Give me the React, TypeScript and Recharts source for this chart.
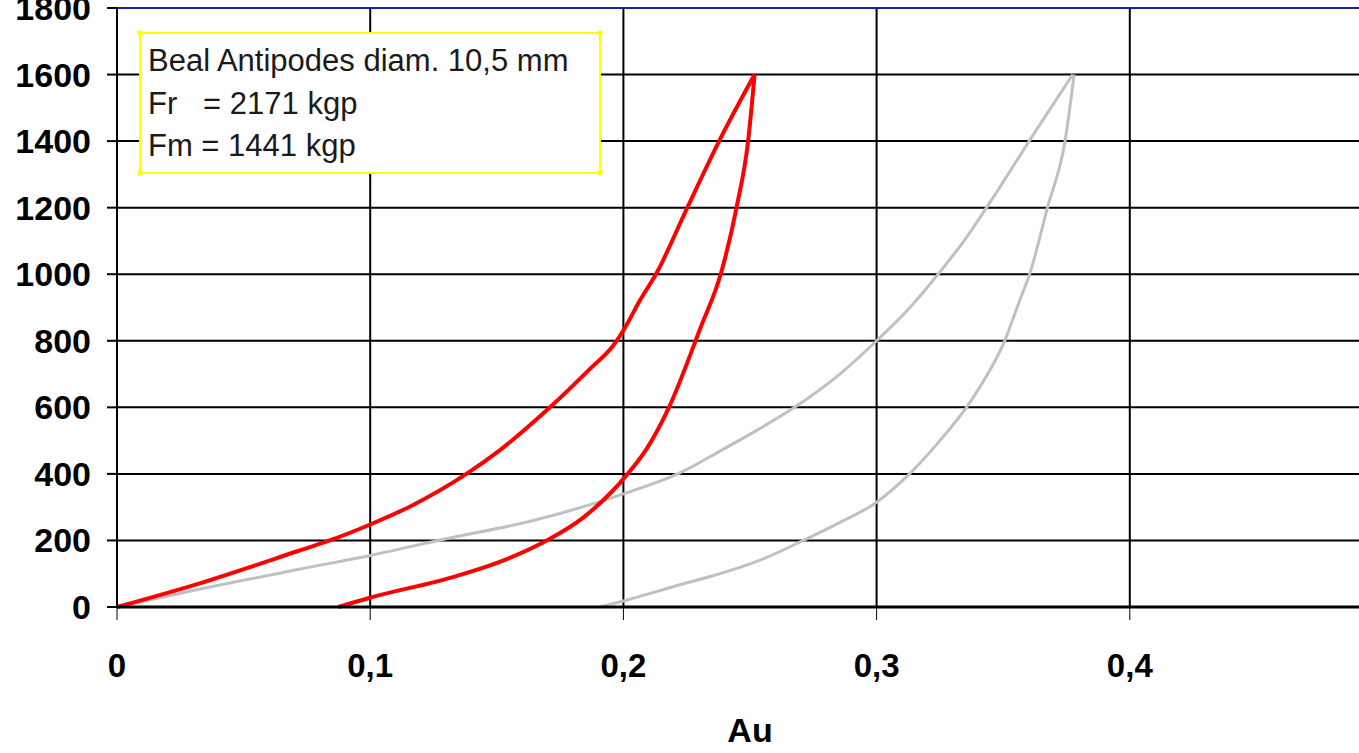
import React from 'react';
import { LineChart, Line, XAxis, YAxis, CartesianGrid, ReferenceLine } from 'recharts';

// Red curve (Beal Antipodes) – loading branch
const redLoadX = [0, 0.033, 0.0718, 0.084, 0.1, 0.116, 0.138, 0.151, 0.171, 0.187, 0.196, 0.2, 0.2065, 0.213, 0.2253, 0.238, 0.2518];
const redLoadY = [0, 72, 169, 200, 248, 303, 400, 470, 600, 717, 786, 831, 921, 1002, 1201, 1403, 1600];
// Red curve – unloading branch
const redUnloadX = [0.2518, 0.2493, 0.2447, 0.2385, 0.2305, 0.218, 0.2095, 0.2017, 0.184, 0.171, 0.154, 0.134, 0.0995, 0.0874];
const redUnloadY = [1600, 1403, 1201, 1002, 840, 600, 479, 400, 268, 205, 144, 93, 27, 0];
// Gray curve – loading branch
const grayLoadX = [0, 0.0328, 0.0723, 0.1, 0.13, 0.164, 0.2, 0.2223, 0.2385, 0.2525, 0.2676, 0.2855, 0.3, 0.312, 0.3245, 0.3355, 0.3435, 0.3605, 0.3774];
const grayLoadY = [0, 54, 114, 155, 205, 259, 340, 403, 470, 530, 600, 700, 800, 890, 1002, 1111, 1201, 1403, 1600];
// Gray curve – unloading branch
const grayUnloadX = [0.378, 0.3745, 0.3675, 0.3605, 0.3565, 0.3505, 0.3407, 0.3355, 0.325, 0.313, 0.3, 0.285, 0.271, 0.255, 0.235, 0.222, 0.2, 0.1907];
const grayUnloadY = [1600, 1403, 1201, 1002, 921, 798, 660, 600, 500, 400, 315, 252, 200, 144, 93, 66, 18, 0];

const xTicks = [0, 0.1, 0.2, 0.3, 0.4];
const xGrid = [0, 0.1, 0.2, 0.3, 0.4, 0.5];
const yTicks = [0, 200, 400, 600, 800, 1000, 1200, 1400, 1600, 1800];

const infoLines = ['Beal Antipodes diam. 10,5 mm', 'Fr   = 2171 kgp', 'Fm = 1441 kgp'];

const toPts = (xs: number[], ys: number[]) => xs.map((x, i) => ({ x, y: ys[i] }));

const redLoad = toPts(redLoadX, redLoadY);
const redUnload = toPts(redUnloadX, redUnloadY);
const grayLoad = toPts(grayLoadX, grayLoadY);
const grayUnload = toPts(grayUnloadX, grayUnloadY);

const FONT = '"Liberation Sans", Arial, sans-serif';

const YTick = (props: any) => {
  const { x, y, payload } = props;
  return (
    <text x={x} y={y} textAnchor="end" dominantBaseline="central" fontSize={34} fontWeight="bold" fontFamily={FONT} fill="#000">
      {payload.value}
    </text>
  );
};

export default function App() {
  return (
    <div style={{ position: 'fixed', left: 0, top: 0, width: 1359, height: 753, overflow: 'hidden', background: '#fff' }}>
      <LineChart width={1400} height={753} margin={{ top: 8, right: 17, left: 0, bottom: 0 }}>
        <CartesianGrid stroke="#000" strokeWidth={2} horizontalValues={yTicks} verticalValues={xGrid} />
        <XAxis
          dataKey="x"
          type="number"
          domain={[0, 0.5]}
          ticks={xTicks}
          tickFormatter={(v: number) => String(v).replace('.', ',')}
          height={146}
          tickSize={13}
          tickMargin={34}
          axisLine={{ stroke: '#000', strokeWidth: 3 }}
          tickLine={{ stroke: '#000', strokeWidth: 1 }}
          tick={{ fill: '#000', fontSize: 33, fontWeight: 'bold', fontFamily: FONT }}
          label={{ value: 'Au', position: 'insideBottom', offset: 11, fill: '#000', fontSize: 34, fontWeight: 'bold', fontFamily: FONT }}
        />
        <YAxis
          type="number"
          domain={[0, 1800]}
          ticks={yTicks}
          width={117}
          tickSize={10}
          tickMargin={16}
          interval={0}
          axisLine={{ stroke: '#000', strokeWidth: 2 }}
          tickLine={{ stroke: '#000', strokeWidth: 2 }}
          tick={<YTick />}
        />
        <ReferenceLine y={1800} stroke="#1e1e9e" strokeWidth={2} />
        <Line data={grayLoad} dataKey="y" type="monotone" stroke="#c0c0c0" strokeWidth={3} dot={false} isAnimationActive={false} />
        <Line data={grayUnload} dataKey="y" type="monotone" stroke="#c0c0c0" strokeWidth={3} dot={false} isAnimationActive={false} />
        <Line data={redLoad} dataKey="y" type="monotone" stroke="#ff0000" strokeWidth={4} dot={false} isAnimationActive={false} />
        <Line data={redUnload} dataKey="y" type="monotone" stroke="#ff0000" strokeWidth={4} dot={false} isAnimationActive={false} />
      </LineChart>
      <svg width={1359} height={753} style={{ position: 'absolute', left: 0, top: 0, pointerEvents: 'none' }}>
        <rect x={140} y={33} width={460} height={140} fill="#fff" stroke="#ffff00" strokeWidth={2} />
        {[[140, 33], [600, 33], [140, 173], [600, 173]].map(([cx, cy], i) => (
          <rect key={i} x={cx - 2.5} y={cy - 2.5} width={5} height={5} fill="#ffff00" />
        ))}
        {infoLines.map((t, i) => (
          <text key={i} x={148} y={71 + i * 42.5} fontSize={31} fontFamily={FONT} fill="#1a1a1a" style={{ whiteSpace: 'pre' }}>
            {t}
          </text>
        ))}
      </svg>
    </div>
  );
}
